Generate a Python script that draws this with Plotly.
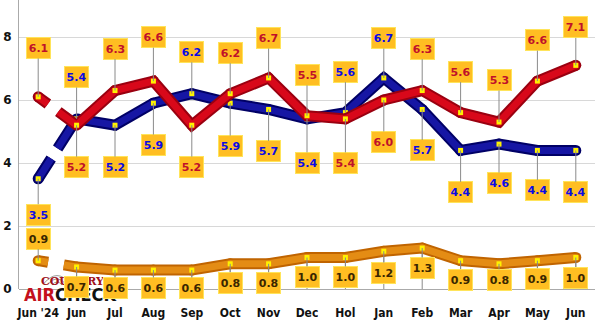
import plotly.graph_objects as go

categories = ["Jun '24", "Jun", "Jul", "Aug", "Sep", "Oct", "Nov", "Dec", "Hol", "Jan", "Feb", "Mar", "Apr", "May", "Jun"]
red_values = [6.1, 5.2, 6.3, 6.6, 5.2, 6.2, 6.7, 5.5, 5.4, 6.0, 6.3, 5.6, 5.3, 6.6, 7.1]
blue_values = [3.5, 5.4, 5.2, 5.9, 6.2, 5.9, 5.7, 5.4, 5.6, 6.7, 5.7, 4.4, 4.6, 4.4, 4.4]
orange_values = [0.9, 0.7, 0.6, 0.6, 0.6, 0.8, 0.8, 1.0, 1.0, 1.2, 1.3, 0.9, 0.8, 0.9, 1.0]
y_ticks = [0, 2, 4, 6, 8]

# label offsets in pixels (negative = above)
red_dy = [-49, 42, -42, -44, 42, -41, -40, -41, 44, 42, -42, -41, -42, -41, -38]
blue_dy = [36, -42, 42, 42, -42, 43, 42, 44, -41, -40, 41, 42, 39, 40, 42]
orange_dy = [-22, 20, 18, 18, 18, 19, 19, 19.5, 19.5, 22, 20, 19, 16, 18, 20]

xs = list(range(len(categories)))
fig = go.Figure()

# orange drop lines to axis
dx, dy = [], []
for i in xs[1:]:
    dx += [i, i, None]
    dy += [0, orange_values[i], None]
fig.add_trace(go.Scatter(x=dx, y=dy, mode="lines", line=dict(color="#8a8a8a", width=1), hoverinfo="skip"))

series = [
    (orange_values, "#C06400", "#E48C14", "10px,16px,40px"),
    (blue_values, "#000066", "#1616A4", "24px,12px,60px"),
    (red_values, "#9A0010", "#D8081A", "12px,13px,40px"),
]
for vals, dark, main, dash in series:
    for color, w in [(dark, 11), (main, 7)]:
        fig.add_trace(go.Scatter(x=xs[:2], y=vals[:2], mode="lines",
                                 line=dict(color=color, width=w, dash=dash),
                                 hoverinfo="skip"))
        fig.add_trace(go.Scatter(x=xs[1:], y=vals[1:], mode="lines",
                                 line=dict(color=color, width=w),
                                 hoverinfo="skip"))
        fig.add_trace(go.Scatter(x=xs, y=vals, mode="markers",
                                 marker=dict(symbol="circle", size=w, color=color, line=dict(width=0)),
                                 hoverinfo="skip"))
    fig.add_trace(go.Scatter(x=xs, y=vals, mode="markers",
                             marker=dict(symbol="square", size=5, color="#FFF200", line=dict(width=0)),
                             hoverinfo="skip"))

annotations = []
# logo
annotations.append(dict(xref="paper", yref="paper", x=(72 - 19) / 576, y=(289 - 281) / 289,
                        xanchor="center", yanchor="middle",
                        text="<b>COUNTRY</b>", showarrow=False,
                        font=dict(family="DejaVu Serif", size=11, color="#A0101A")))
annotations.append(dict(xref="paper", yref="paper", x=(70 - 19) / 576, y=(289 - 294) / 289,
                        xanchor="center", yanchor="middle",
                        text="<b><span style='color:#C4101C'>AIR</span>CHECK</b>", showarrow=False,
                        font=dict(family="DejaVu Sans Condensed", size=18, color="#111111")))

label_sets = [
    (red_values, red_dy, "#C0102A"),
    (blue_values, blue_dy, "#0A0AE6"),
    (orange_values, orange_dy, "#3A2600"),
]
for vals, dys, tcolor in label_sets:
    for i, v in enumerate(vals):
        annotations.append(dict(
            x=i, y=v, xref="x", yref="y", ax=0, ay=dys[i],
            text="<b>%.1f</b>" % v, showarrow=True, arrowhead=0, arrowwidth=1,
            arrowcolor="#8a8a8a", standoff=0,
            font=dict(family="DejaVu Sans", size=11, color=tcolor),
            bgcolor="#FFBE22", bordercolor="#FFE45A", borderwidth=1,
            width=21, height=18, borderpad=1, align="center", valign="middle"))

# radio waves
shapes = []
cx, cy = 57, 286
for r in [5, 9, 13]:
    x0 = (cx - r - 19) / 576
    x1 = (cx + r - 19) / 576
    shapes.append(dict(type="path", xref="paper", yref="paper",
                       path="M %f %f Q %f %f %f %f" % (x0, (289 - cy + r * 0.2) / 289,
                                                       (cx - 19) / 576, (289 - cy + r * 1.4) / 289,
                                                       x1, (289 - cy + r * 0.2) / 289),
                       line=dict(color="#9a9a9a", width=1)))

fig.update_layout(
    width=600, height=321,
    margin=dict(l=19, r=5, t=0, b=32),
    paper_bgcolor="white", plot_bgcolor="white",
    showlegend=False,
    annotations=annotations,
    shapes=shapes,
    xaxis=dict(range=[-0.5, 14.5], tickvals=xs, ticktext=categories, showgrid=False,
               zeroline=False, showline=False, ticks="", ticklabelstandoff=15,
               tickangle=0, automargin=False,
               tickfont=dict(family="DejaVu Sans Condensed", size=12,
                             color="#111111", weight="bold"),
               fixedrange=True),
    yaxis=dict(range=[0, 289 / 31.5], tickvals=y_ticks, showgrid=True, gridcolor="#d8d8d8",
               gridwidth=1, zeroline=True, zerolinecolor="#aaaaaa", zerolinewidth=1,
               showline=True, linecolor="#aaaaaa", linewidth=1, ticks="",
               ticklabelstandoff=4, automargin=False,
               tickfont=dict(family="DejaVu Sans", size=12, color="#111111", weight="bold"),
               fixedrange=True),
)

fig.write_html("out.html")
